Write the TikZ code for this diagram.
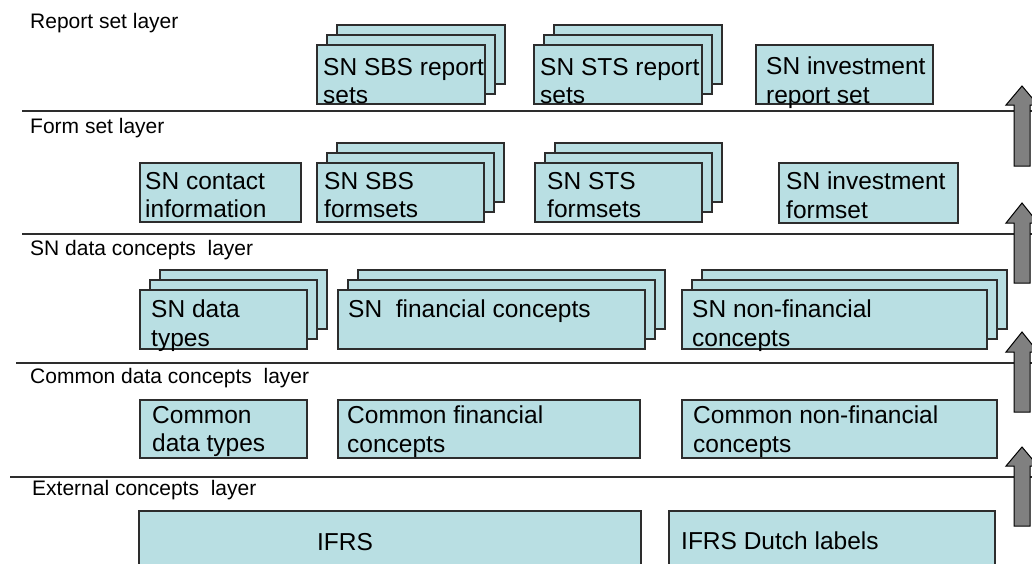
\documentclass[tikz,border=0pt]{standalone}
\usepackage{fontspec}
\setmainfont{Liberation Sans}
\definecolor{boxfill}{RGB}{185,223,227}
\definecolor{boxline}{RGB}{45,45,45}
\definecolor{arrowfill}{RGB}{128,128,128}
\tikzset{
  bx/.style={draw=boxline, fill=boxfill, line width=1.2pt, inner sep=0pt, outer sep=0pt, anchor=north west},
  btxt/.style={font=\fontsize{24.5}{28.5}\selectfont, align=left, inner sep=0pt, anchor=north west},
  lbl/.style={font=\fontsize{21}{25}\selectfont, inner sep=0pt, anchor=base west},
  layerline/.style={draw=boxline, line width=1.4pt},
  uparrow/.style={draw=black, fill=arrowfill, line width=1pt, line join=miter},
}
% name, left, top, right, bottom
\newcommand\mybox[5]{\node[bx, minimum width={(#4)-(#2)}, minimum height={(#5)-(#3)}] (#1) at (#2,#3) {};}
\newcommand\mystack[5]{%
  \mybox{#1-b}{#2+20}{#3-20}{#4+20}{#5-20}
  \mybox{#1-m}{#2+10}{#3-10}{#4+10}{#5-10}
  \mybox{#1}{#2}{#3}{#4}{#5}}
% tip y, head base y, bottom y
\newcommand\uparr[3]{\draw[uparrow] (1022,#1) -- (1038,#2) -- (1030,#2) -- (1030,#3) -- (1014,#3) -- (1014,#2) -- (1006,#2) -- cycle;}
\begin{document}
\begin{tikzpicture}[x=1pt,y=-1pt]
\useasboundingbox (0,0) rectangle (1032,563);
\clip (0,0) rectangle (1032,563);

% layer separators
\coordinate (l1a) at (22,111);  \coordinate (l1b) at (1032,111);
\coordinate (l2a) at (22,234);  \coordinate (l2b) at (1032,234);
\coordinate (l3a) at (16,363);  \coordinate (l3b) at (1032,363);
\coordinate (l4a) at (10,477);  \coordinate (l4b) at (1032,477);
\draw[layerline] (l1a) -- (l1b);
\draw[layerline] (l2a) -- (l2b);
\draw[layerline] (l3a) -- (l3b);
\draw[layerline] (l4a) -- (l4b);

% layer labels
\node[lbl] (lab-report) at (30,28) {Report set layer};
\node[lbl] (lab-form) at (30,133) {Form set layer};
\node[lbl] (lab-sn) at (30,255) {SN data concepts~~layer};
\node[lbl] (lab-common) at (30,383) {Common data concepts~~layer};
\node[lbl] (lab-ext) at (32,495) {External concepts~~layer};

% report set layer
\mystack{sbsr}{317}{45}{485}{104}
\node[btxt] (t-sbsr) at ([xshift=6pt,yshift=-13pt]sbsr.north west) {SN SBS report\\sets};
\mystack{stsr}{534}{45}{702}{104}
\node[btxt] (t-stsr) at ([xshift=6pt,yshift=-13pt]stsr.north west) {SN STS report\\sets};
\mybox{invr}{756}{45}{933}{104}
\node[btxt] (t-invr) at ([xshift=10pt,yshift=-12pt]invr.north west) {SN investment\\report set};

% form set layer
\mybox{contact}{140}{163}{301}{222}
\node[btxt] (t-contact) at ([xshift=5pt,yshift=-9pt]contact.north west) {SN contact\\information};
\mystack{sbsf}{317}{163}{484}{222}
\node[btxt] (t-sbsf) at ([xshift=7pt,yshift=-9pt]sbsf.north west) {SN SBS\\formsets};
\mystack{stsf}{535}{163}{702}{222}
\node[btxt] (t-stsf) at ([xshift=12pt,yshift=-9pt]stsf.north west) {SN STS\\formsets};
\mybox{invf}{779}{163}{958}{223}
\node[btxt] (t-invf) at ([xshift=7pt,yshift=-9pt]invf.north west) {SN investment\\formset};

% SN data concepts layer
\mystack{sntypes}{140}{290}{307}{349}
\node[btxt] (t-sntypes) at ([xshift=11pt,yshift=-10pt]sntypes.north west) {SN data\\types};
\mystack{snfin}{338}{290}{645}{349}
\node[btxt] (t-snfin) at ([xshift=10pt,yshift=-10pt]snfin.north west) {SN~~financial concepts};
\mystack{snnonfin}{682}{290}{987}{349}
\node[btxt] (t-snnonfin) at ([xshift=10pt,yshift=-10pt]snnonfin.north west) {SN non-financial\\concepts};

% common data concepts layer
\mybox{ctypes}{140}{400}{307}{458}
\node[btxt] (t-ctypes) at ([xshift=12pt,yshift=-6pt]ctypes.north west) {Common\\data types};
\mybox{cfin}{338}{400}{640}{458}
\node[btxt] (t-cfin) at ([xshift=9pt,yshift=-6pt]cfin.north west) {Common financial\\concepts};
\mybox{cnonfin}{682}{400}{997}{458}
\node[btxt] (t-cnonfin) at ([xshift=11pt,yshift=-6pt]cnonfin.north west) {Common non-financial\\concepts};

% external concepts layer
\mybox{ifrs}{139}{511}{641}{575}
\node[btxt, anchor=center] (t-ifrs) at (345,542) {IFRS};
\mybox{ifrsnl}{669}{511}{995}{575}
\node[btxt, anchor=west] (t-ifrsnl) at (681,541) {IFRS Dutch labels};

% block arrows
\uparr{86}{105}{166}
\uparr{203}{223}{283}
\uparr{332}{352}{412}
\uparr{447}{466}{526}
\end{tikzpicture}
\end{document}
